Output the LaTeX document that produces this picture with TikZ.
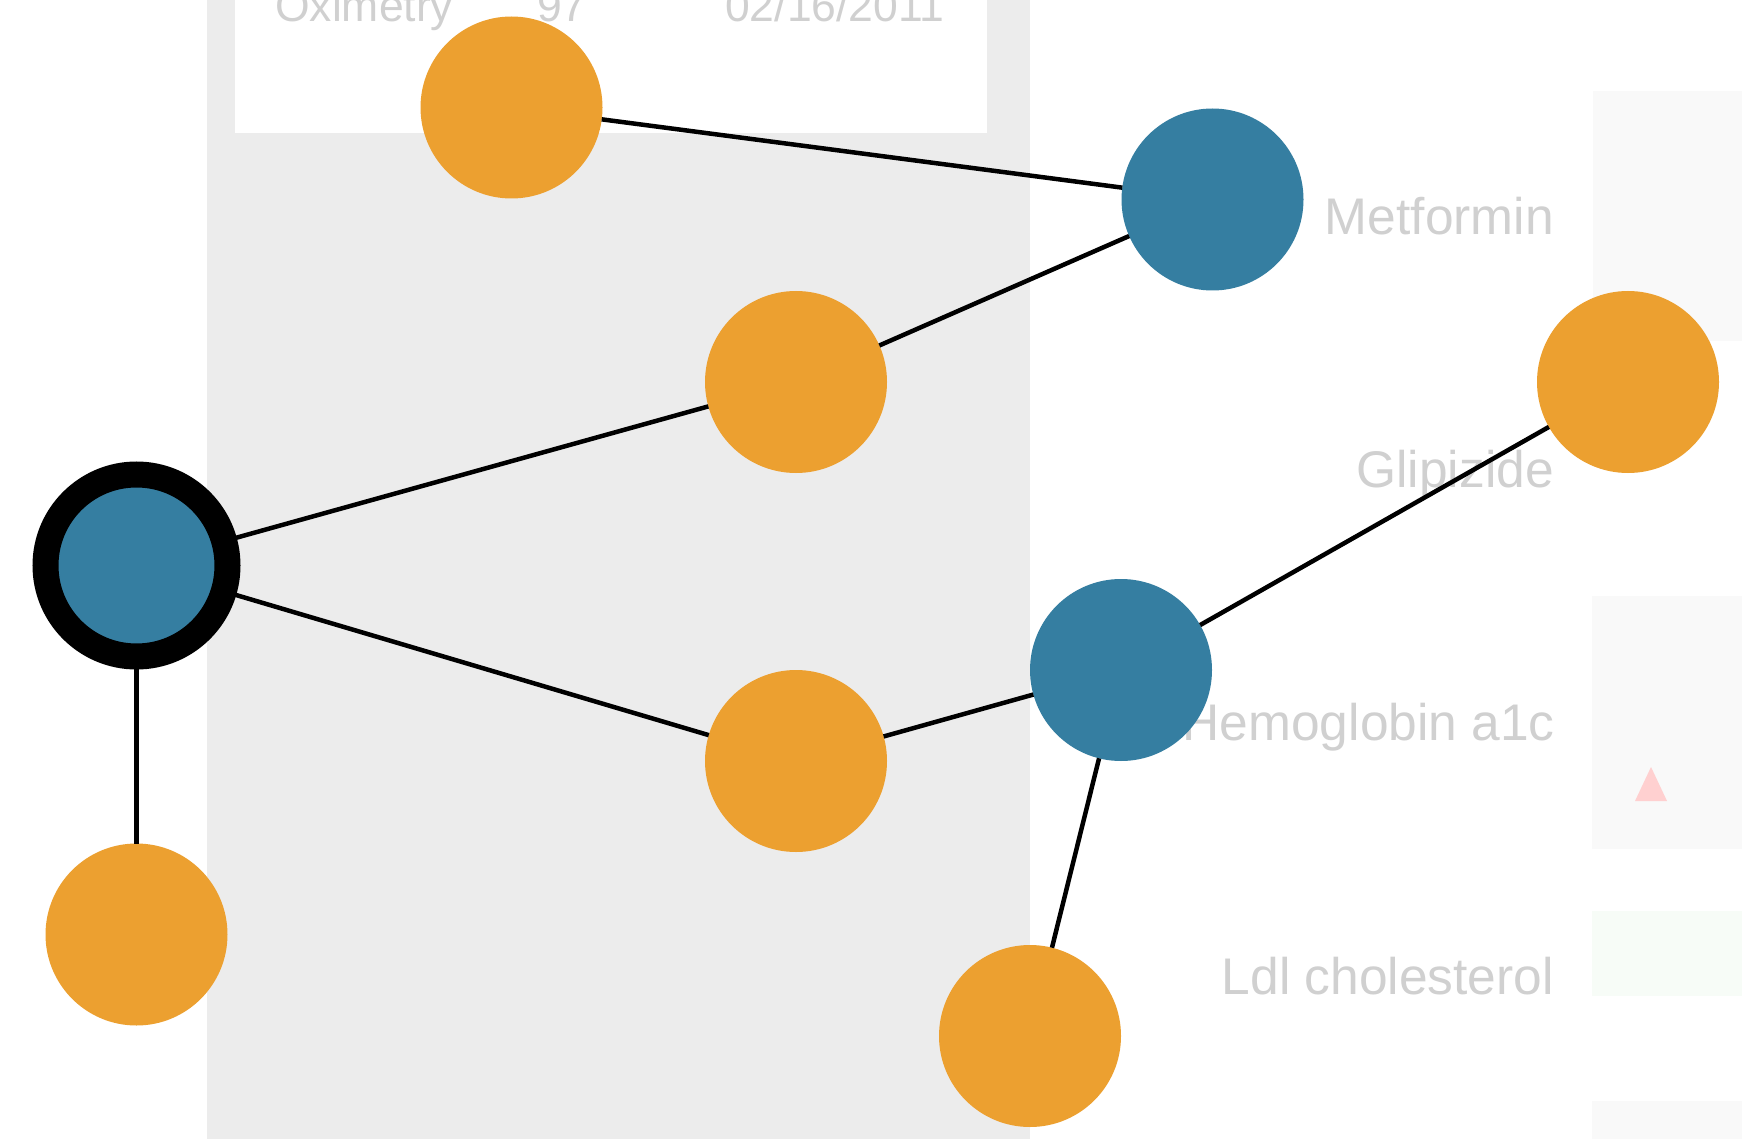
\documentclass[tikz,border=0pt]{standalone}
\usepackage{fontspec}
\setmainfont{Liberation Sans}
\definecolor{nodeorange}{RGB}{236,160,48}
\definecolor{nodeblue}{RGB}{53,126,161}
\definecolor{panelgray}{RGB}{236,236,236}
\definecolor{rowgray}{RGB}{249,249,249}
\definecolor{rowgreen}{RGB}{247,252,247}
\definecolor{labelgray}{RGB}{208,208,208}
\definecolor{alertpink}{RGB}{255,208,208}
\tikzset{
  dot/.style={circle, inner sep=0pt, outer sep=0pt, minimum size=182pt},
  orangedot/.style={dot, fill=nodeorange},
  bluedot/.style={dot, fill=nodeblue},
  selecteddot/.style={dot, fill=nodeblue, draw=black, line width=26pt},
  link/.style={draw=black, line width=4.5pt},
  druglabel/.style={anchor=base east, inner sep=0pt, text=labelgray, font=\fontsize{51.5}{60}\selectfont},
  tablelabel/.style={anchor=base west, inner sep=0pt, text=labelgray, font=\fontsize{44.5}{50}\selectfont}
}
\begin{document}
\begin{tikzpicture}[x=1pt, y=-1pt]
\useasboundingbox (0,0) rectangle (1742,1139);
\fill[white] (0,0) rectangle (1742,1139);
% background panels
\fill[panelgray] (207,0) rectangle (1030,1139);
\fill[white] (235,0) rectangle (987,133);
\fill[rowgray] (1593,91) rectangle (1742,341);
\fill[rowgray] (1592,596) rectangle (1742,849);
\fill[rowgreen] (1592,911) rectangle (1742,996);
\fill[rowgray] (1592,1101) rectangle (1742,1139);
\fill[alertpink] (1635,801) -- (1667,801) -- (1651,767) -- cycle;
% texts
\node[tablelabel] (t1) at (275,22) {Oximetry};
\node[tablelabel] (t2) at (537,22) {97};
\node[tablelabel] (t3) at (725,22) {02/16/2011};
\node[druglabel] (l1) at (1554,235) {Metformin};
\node[druglabel] (l2) at (1554,487) {Glipizide};
\node[druglabel] (l3) at (1555,740) {Hemoglobin a1c};
\node[druglabel] (l4) at (1554,994) {Ldl cholesterol};
% nodes
\node[orangedot] (otop) at (511.5,107.5) {};
\node[bluedot] (metf) at (1212.5,199.5) {};
\node[orangedot] (omid) at (796,382) {};
\node[orangedot] (oright) at (1628,382) {};
\node[selecteddot] (sel) at (136.5,565.5) {};
\node[orangedot] (olow) at (796,761) {};
\node[bluedot] (hemo) at (1121,670) {};
\node[orangedot] (obl) at (136.5,934.5) {};
\node[orangedot] (obot) at (1030,1036) {};
% links
\draw[link] (otop) -- (metf);
\draw[link] (omid) -- (metf);
\draw[link] (sel) -- (omid);
\draw[link] (sel) -- (olow);
\draw[link] (sel) -- (obl);
\draw[link] (olow) -- (hemo);
\draw[link] (hemo) -- (oright);
\draw[link] (hemo) -- (obot);
\end{tikzpicture}
\end{document}
